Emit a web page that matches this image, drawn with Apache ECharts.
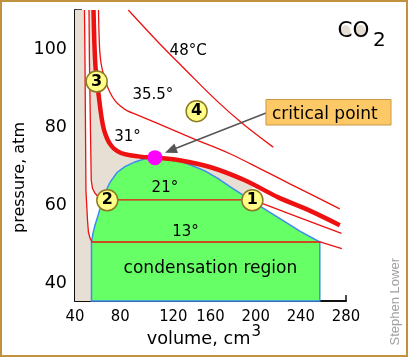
<!DOCTYPE html>
<html><head><meta charset="utf-8">
<script src="https://cdn.jsdelivr.net/npm/echarts@6/dist/echarts.min.js"></script>
<style>html,body{margin:0;padding:0;background:#fff;}#c{width:408px;height:357px;}</style>
</head><body><div id="c"></div>
<script>
// ---- data (volume cm3, pressure atm) ----
const xTickValues = [40, 80, 120, 160, 200, 240, 280];
const yLabelValues = [40, 60, 80, 100];
const yTickValues = [40, 50, 60, 70, 80, 90, 100, 110];

const iso13 = [[48.4,110],[48.85,97.0],[49.3,79.1],[49.7,63.8],[51.1,56.1],[51.9,53.1],[53.3,51.6],[55.0,50.6],[257.7,50.6],[276.3,48.9]];
const iso21 = [[52.4,110],[52.8,97.0],[53.7,79.1],[54.4,66.4],[55.5,64.3],[57.7,63.1],[61.2,62.0],[65.7,61.4],[197.5,61.4],[236.5,57.1],[276.0,52.8]];
const iso31 = [[56.4,110],[57.1,102.1],[58.1,95.7],[59.5,91.6],[61.2,87.6],[63.0,83.5],[64.8,80.4],[67.0,78.1],[70.1,76.1],[74.5,74.5],[80.7,73.4],[88.7,72.8],[99.3,72.4],[110.8,72.2],[131.2,71.6],[159.5,69.8],[190.4,66.4],[219.6,62.1],[248.8,58.5],[274.5,54.9]];
const iso35 = [[60.8,110],[61.2,104.7],[61.9,99.6],[63.0,96.5],[64.8,94.0],[67.4,91.4],[71.0,88.9],[75.4,86.8],[80.7,85.3],[86.9,84.1],[94.0,83.3],[115.2,80.7],[146.2,76.9],[177.2,73.2],[203.7,69.4],[230.3,65.5],[274.5,59.1]];
const iso48 = [[87.2,110],[115.2,101.3],[135.8,95.3],[165.4,86.8],[188.9,80.8],[215.5,74.9]];
const dome = [[54.6,35.5],[54.6,50.6],[55.9,52.8],[57.7,54.9],[60.4,57.4],[63.0,60.0],[66.5,63.1],[71.0,65.9],[77.2,68.4],[84.2,69.9],[93.1,71.1],[101.9,71.9],[110.8,72.2],[119.6,72.1],[131.2,71.5],[143.5,70.2],[155.0,68.8],[166.5,66.9],[177.2,64.8],[187.8,62.8],[199.3,60.6],[212.6,58.2],[225.8,55.8],[239.1,53.4],[256.8,50.6],[256.8,35.5]];
const criticalPoint = [110.8, 72.2];

const markerNames = ['1', '2', '3', '4'];
const markerVol = [197.1, 68.6, 59.2, 147.7];
const markerP = [61.3, 61.3, 91.7, 84.1];

const labelTexts = ['48°C', '35.5°', '31°', '21°', '13°', 'condensation region'];
const labelVol = [140.2, 109.0, 86.5, 119.6, 137.8, 159.9];
const labelP = [99.4, 88.1, 77.5, 64.3, 53.1, 43.9];

const Y_MIN = 35.5, Y_MAX = 110;

// ---- derived regions ----
const tanPoly = [[40, Y_MIN], [40, Y_MAX]]
  .concat(iso31.filter(p => p[0] <= 191))
  .concat([[197.1, 65.4], [197.1, 61.3], [197.1, Y_MIN]]);
const whitePoly = iso13.slice(0, 8)
  .concat([[80, 50.6], [80, 61.4]])
  .concat(iso21.slice(0, 8).reverse());

const font = '"DejaVu Sans", Verdana, sans-serif';
const condFont = '"DejaVu Sans Condensed", "Liberation Sans", Arial, sans-serif';
const RED = '#ee1111';

function polySeries(poly, z, style) {
  return {
    type: 'custom', z: z, silent: true,
    data: [poly[0]],
    renderItem: function (params, api) {
      return { type: 'polygon', shape: { points: poly.map(p => api.coord(p)) }, style: style };
    }
  };
}
function lineSeries(data, width, smooth) {
  return {
    type: 'line', data: data, symbol: 'none', z: 4, silent: true,
    smooth: smooth, lineStyle: { color: RED, width: width }
  };
}

const chart = echarts.init(document.getElementById('c'), null, { renderer: 'canvas' });
chart.setOption({
  animation: false,
  grid: { left: 75, right: 62, top: 10, bottom: 56 },
  xAxis: {
    type: 'value', min: 40, max: 280, interval: 40,
    axisLine: { onZero: false, lineStyle: { color: '#111', width: 2 } },
    axisTick: { inside: true, length: 6, lineStyle: { color: '#111', width: 1.5 } },
    axisLabel: {
      margin: 7, color: '#000', fontSize: 16.5, fontFamily: condFont,
      formatter: v => v === 120 ? '{s|120}' : String(v),
      rich: { s: { fontSize: 16.5, fontFamily: condFont, color: '#000', padding: [0, 0, 0, 16] } }
    },
    splitLine: { show: false }
  },
  yAxis: {
    type: 'value', min: Y_MIN, max: Y_MAX,
    axisLine: { onZero: false, lineStyle: { color: '#111', width: 2 } },
    axisTick: { inside: true, length: 7, customValues: yTickValues, lineStyle: { color: '#111', width: 1.5 } },
    axisLabel: { margin: 8, color: '#000', fontSize: 17.5, fontFamily: font, customValues: yLabelValues },
    splitLine: { show: false }
  },
  series: [
    polySeries(tanPoly, 1, { fill: '#e7dfd4' }),
    polySeries(whitePoly, 2, { fill: '#ffffff' }),
    polySeries(dome, 3, { fill: '#66ff66', stroke: '#3d8cf0', lineWidth: 1.5 }),
    lineSeries(iso13, 1.3, false),
    lineSeries(iso21, 1.3, false),
    lineSeries(iso35, 1.3, 0.3),
    lineSeries(iso48, 1.3, 0.4),
    lineSeries(iso31, 4.5, 0.3),
    {
      type: 'scatter', z: 5, silent: true, symbolSize: 15,
      itemStyle: { color: '#ff00ff', opacity: 1 },
      data: [criticalPoint]
    },
    {
      type: 'scatter', z: 6, silent: true, symbolSize: 21,
      itemStyle: { color: '#ffff88', borderColor: '#8d7a26', borderWidth: 1.5, opacity: 1 },
      label: { show: true, position: 'inside', formatter: '{b}', color: '#000', fontWeight: 'bold', fontSize: 16, fontFamily: font, textBorderWidth: 0 },
      data: markerNames.map((n, i) => ({ name: n, value: [markerVol[i], markerP[i]] }))
    },
    {
      type: 'scatter', z: 7, silent: true, symbolSize: 1,
      itemStyle: { color: 'rgba(255,255,255,0)' },
      label: { show: true, position: 'inside', formatter: '{b}', color: '#000', fontFamily: font, fontSize: 15, textBorderWidth: 0, opacity: 1 },
      data: labelTexts.map((t, i) => ({
        name: t, value: [labelVol[i], labelP[i]],
        label: { fontSize: t === 'condensation region' ? 17 : 15 }
      }))
    }
  ],
  graphic: [
    { type: 'rect', z: 100, silent: true, shape: { x: 1, y: 1, width: 406, height: 355 }, style: { fill: 'none', stroke: '#c0913f', lineWidth: 2 } },
    // critical point callout
    { type: 'line', z: 100, silent: true, shape: { x1: 266, y1: 113, x2: 176, y2: 148.3 }, style: { stroke: '#555', lineWidth: 1.5 } },
    { type: 'polygon', z: 100, silent: true, shape: { points: [[165, 152.7], [178, 153], [174.4, 143.6]] }, style: { fill: '#555' } },
    { type: 'rect', z: 100, silent: true, shape: { x: 266, y: 99.5, width: 125, height: 25.5 }, style: { fill: '#fdc866', stroke: '#c9974a', lineWidth: 1 } },
    { type: 'text', z: 101, silent: true, x: 272, y: 115, style: { text: 'critical point', font: '17px ' + font, fill: '#000', align: 'left', verticalAlign: 'middle' } },
    // CO2 title
    { type: 'ellipse', z: 100, silent: true, shape: { cx: 345.5, cy: 31.3, rx: 5, ry: 6 }, style: { fill: '#e6ddd2' } },
    { type: 'ellipse', z: 100, silent: true, shape: { cx: 360.3, cy: 31.3, rx: 5, ry: 6.5 }, style: { fill: '#e6ddd2' } },
    { type: 'text', z: 101, silent: true, x: 337.5, y: 31.3, style: { text: 'CO', font: '21.5px ' + font, fill: '#000', align: 'left', verticalAlign: 'middle' } },
    { type: 'text', z: 101, silent: true, x: 373, y: 41, style: { text: '2', font: '20px ' + font, fill: '#000', align: 'left', verticalAlign: 'middle' } },
    // axis titles
    { type: 'text', z: 101, silent: true, x: 20, y: 177.5, rotation: Math.PI / 2, style: { text: 'pressure, atm', font: '16px ' + font, fill: '#000', align: 'center', verticalAlign: 'middle' } },
    { type: 'text', z: 101, silent: true, x: 146.7, y: 339, style: { text: 'volume, cm', font: '17.7px ' + font, fill: '#000', align: 'left', verticalAlign: 'middle' } },
    { type: 'text', z: 101, silent: true, x: 251.5, y: 332.5, style: { text: '3', font: '15px ' + font, fill: '#000', align: 'left', verticalAlign: 'middle' } },
    // credit
    { type: 'text', z: 101, silent: true, x: 395, y: 301.7, rotation: Math.PI / 2, style: { text: 'Stephen Lower', font: '13px "Liberation Sans", Arial, sans-serif', fill: '#a0a0a0', align: 'center', verticalAlign: 'middle' } }
  ]
});
</script>
</body></html>
